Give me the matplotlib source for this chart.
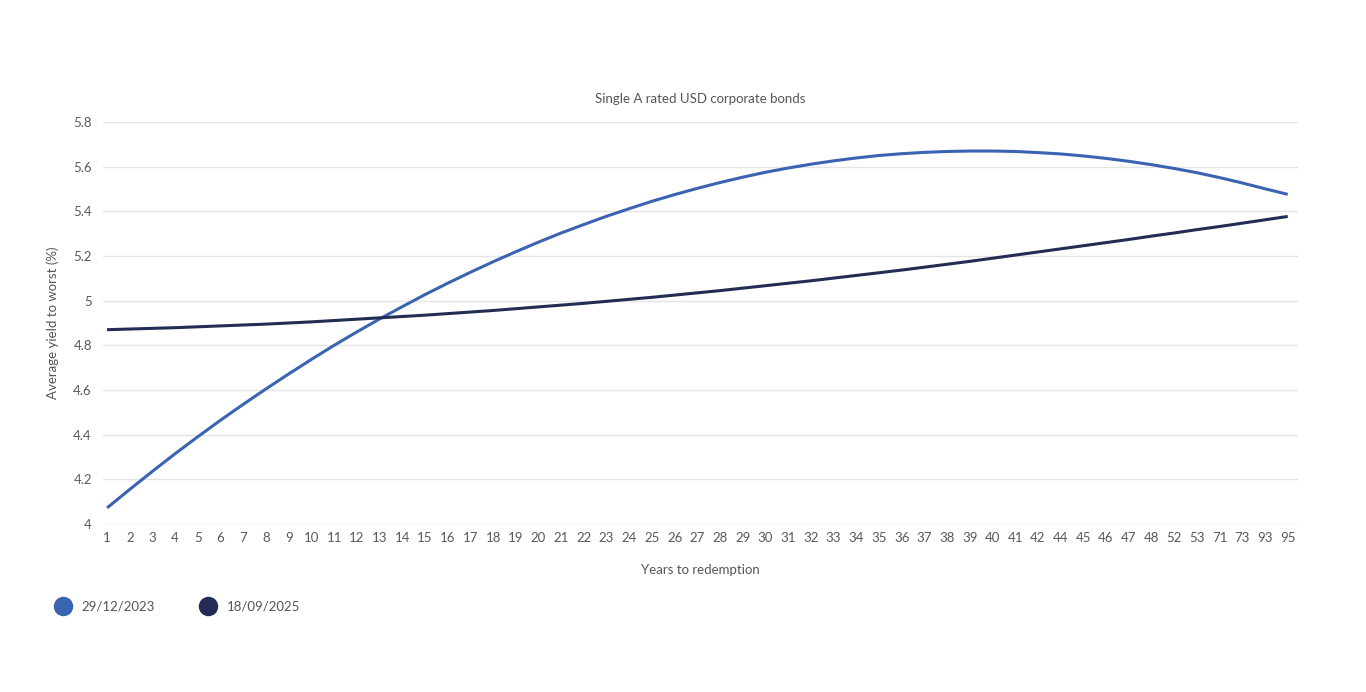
import matplotlib
matplotlib.use("Agg")
import matplotlib.pyplot as plt
from matplotlib.lines import Line2D
from matplotlib.ticker import FuncFormatter

plt.rcParams['font.family'] = ['Lato', 'DejaVu Sans']

years = ["1", "2", "3", "4", "5", "6", "7", "8", "9", "10", "11", "12", "13", "14",
         "15", "16", "17", "18", "19", "20", "21", "22", "23", "24", "25", "26", "27",
         "28", "29", "30", "31", "32", "33", "34", "35", "36", "37", "38", "39", "40",
         "41", "42", "44", "45", "46", "47", "48", "52", "53", "71", "73", "93", "95"]

yield_2023 = [4.072, 4.155, 4.236, 4.315, 4.391, 4.465, 4.536, 4.605, 4.672, 4.737,
              4.800, 4.860, 4.918, 4.973, 5.027, 5.078, 5.127, 5.174, 5.219, 5.262,
              5.303, 5.341, 5.378, 5.412, 5.445, 5.475, 5.503, 5.529, 5.553, 5.575,
              5.594, 5.611, 5.626, 5.639, 5.650, 5.658, 5.664, 5.668, 5.670, 5.670,
              5.668, 5.663, 5.657, 5.648, 5.637, 5.624, 5.609, 5.592, 5.573, 5.551,
              5.527, 5.501, 5.476]

yield_2025 = [4.870, 4.873, 4.876, 4.879, 4.883, 4.887, 4.891, 4.895, 4.900, 4.905,
              4.911, 4.917, 4.923, 4.929, 4.935, 4.942, 4.949, 4.956, 4.964, 4.972,
              4.980, 4.988, 4.997, 5.006, 5.015, 5.025, 5.035, 5.045, 5.056, 5.067,
              5.078, 5.089, 5.101, 5.113, 5.125, 5.137, 5.150, 5.163, 5.176, 5.190,
              5.204, 5.218, 5.232, 5.246, 5.260, 5.274, 5.289, 5.303, 5.318, 5.332,
              5.347, 5.362, 5.377]

series_labels = ["29/12/2023", "18/09/2025"]
colors = ["#3a64b2", "#222c55"]

fig = plt.figure(figsize=(13.66, 6.92), dpi=100)
ax = fig.add_axes([0.0754, 0.2428, 0.8746, 0.5809])

x = list(range(len(years)))
ax.plot(x, yield_2023, color=colors[0], lw=2.2, solid_capstyle='butt')
ax.plot(x, yield_2025, color=colors[1], lw=2.2, solid_capstyle='butt')

ax.set_ylim(4, 5.8)
ax.set_yticks([4 + 0.2 * k for k in range(10)])
ax.yaxis.set_major_formatter(FuncFormatter(lambda v, p: f"{round(v, 1):g}"))
ax.set_xlim(-0.18, 52.44)
ax.set_xticks(x)
ax.set_xticklabels(years)

ax.grid(axis='y', color='#e4e4e4', lw=1)
ax.set_axisbelow(True)
for s in ax.spines.values():
    s.set_visible(False)
ax.tick_params(axis='both', length=0, labelsize=9.5, colors='#595959')
ax.tick_params(axis='x', pad=6)
ax.tick_params(axis='y', pad=8)

ax.set_title("Single A rated USD corporate bonds", fontsize=9.5, color='#555555', pad=14)
ax.set_ylabel("Average yield to worst (%)", fontsize=9.5, color='#555555', labelpad=10)
ax.set_xlabel("Years to redemption", fontsize=9.5, color='#555555', labelpad=14)

handles = [Line2D([], [], ls='none', marker='o', markersize=13, color=c) for c in colors]
fig.legend(handles, series_labels, loc='center left', bbox_to_anchor=(0.028, 0.124),
           ncol=2, frameon=False, fontsize=9.5, labelcolor='#555555',
           handletextpad=0.4, columnspacing=3.0)

fig.savefig("out.png", dpi=100)
